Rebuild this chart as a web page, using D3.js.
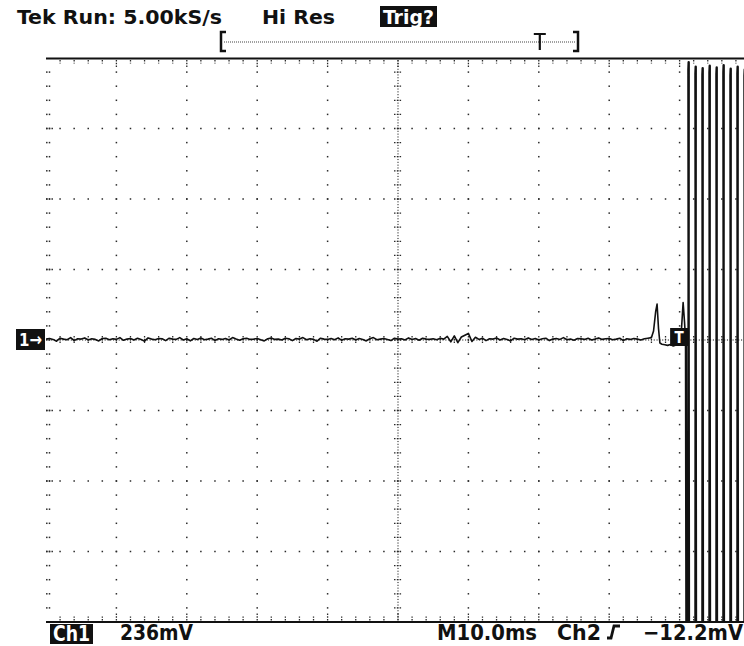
<!DOCTYPE html>
<html><head><meta charset="utf-8">
<script src="https://cdn.jsdelivr.net/npm/d3@7"></script>
<style>
html,body{margin:0;padding:0;background:#fff;}
svg{display:block;}
</style></head><body>
<svg id="c" width="744" height="646"></svg>
<script>
// ---------- data ----------
const timeDomainMs = [0, 100];      // 10 divisions x 10.0 ms
const voltDomainMv = [-944, 944];   // 8 divisions x 236 mV
const timeDivs = [10, 20, 30, 40, 60, 70, 80, 90];
const centerTime = 50;
const voltDivs = [-708, -472, -236, 236, 472, 708];
const centerVolt = 0;
const timeMinorMs = 2;
const voltMinorMv = 47.2;

const baseStepMs = 0.5;
const baselineMv = [
  3, 5, 2, -4, 6, 3, 1, 8, -2, 4, 3, 7, 0, 4, 2, -3, 5, 6, 1, 4,
  2, 8, -1, 3, 5, 0, 6, 2, -4, 7, 3, 1, 5, 4, -2, 6, 3, 2, 8, 0,
  4, -3, 5, 2, 7, 1, 3, 6, -2, 4, 2, 5, 0, 8, 3, -1, 4, 6, 2, 3,
  5, 1, -3, 4, 7, 2, 3, 0, 6, 4, -2, 5, 3, 8, 1, 4, 2, -4, 6, 3,
  2, 5, 1, 7, -1, 4, 3, 6, 0, 5, 2, -3, 4, 8, 1, 3, 5, 2, -2, 6,
  3, 4, 0, 7, 2, 5, -1, 6, 3, 2, 4, 1, 6, 3, 12, -6, 14, -9, 10, 16,
  22, -5, 9, 2, 6, -2, 4, 3, 7, 0, 5, 2, -3, 6, 3, 4, 1, 7, 2, 5,
  0, 4, 6, -2, 3, 5, 2, 8, 1, 3, -1, 5, 4, 2, 6, 0, 3, 7, 2, 4,
  5, 1, 3, 6, -2, 4, 2, 5, 3, 0, 4, 6
];
const spikeT  = [86.0, 86.3, 86.6, 86.8, 87.0, 87.2, 87.5, 87.9, 88.3, 88.7, 89.1, 89.5, 89.9, 90.2, 90.5, 90.7, 90.9];
const spikeMv = [8, 30, 95, 120, 40, -10, -14, -16, -18, -15, -20, -17, -12, 10, 125, 60, -20];
const burstT  = [91.19, 91.29, 91.25, 91.45, 92.19, 92.29, 92.25, 92.45, 93.18, 93.28, 93.24, 93.44,
                 94.18, 94.28, 94.24, 94.44, 95.17, 95.27, 95.23, 95.43, 96.16, 96.26, 96.22, 96.42,
                 97.16, 97.26, 97.22, 97.42, 98.15, 98.25, 98.21, 98.41, 99.15, 99.25, 99.21, 99.41];
const burstMv = [-4000, 930, 905, -4000, -4000, 915, 892, -4000, -4000, 910, 888, -4000,
                 -4000, 918, 895, -4000, -4000, 912, 890, -4000, -4000, 920, 896, -4000,
                 -4000, 908, 886, -4000, -4000, 915, 892, -4000, -4000, 905, 885, -4000];
const triggerTimeMs = 90.5;
const recordTriggerFrac = 0.893;

const headerTexts = ["Tek Run: 5.00kS/s", "Hi Res", "Trig?"];
const footerTexts = ["Ch1", "236mV", "M10.0ms", "Ch2", "\u221212.2mV"];
const channelMarker = "1\u2192";

// ---------- drawing ----------
const svg = d3.select("#c");
const x = d3.scaleLinear().domain(timeDomainMs).range([46, 750]);
const y = d3.scaleLinear().domain(voltDomainMv).range([622, 58]);
const ink = "#111";
const dotc = "#2a2a2a";
const font = "'DejaVu Sans Condensed', 'DejaVu Sans', sans-serif";

const minorT = d3.range(0, 51).map(i => timeDomainMs[0] + i * timeMinorMs);
const minorV = d3.range(0, 41).map(i => voltDomainMv[0] + i * voltMinorMv);
const visT = t => x(t) <= 744;
const inside = v => v > voltDomainMv[0] + 1 && v < voltDomainMv[1] - 1;

const g = svg.append("g");
function dot(px, py, s = 1.5) {
  g.append("rect").attr("x", px - s / 2).attr("y", py - s / 2).attr("width", s).attr("height", s).attr("fill", dotc);
}
// vertical gridlines
timeDivs.forEach(t => {
  minorV.filter(inside).forEach(v => dot(x(t), y(v)));
});
// horizontal gridlines
voltDivs.forEach(v => {
  minorT.filter(visT).forEach(t => { if (t > 0) dot(x(t), y(v)); });
  dot(x(0) + 0.8, y(v)); dot(x(0) + 3.5, y(v)); dot(x(0) + 6.2, y(v));
});
// left edge (double dots)
minorV.filter(inside).forEach(v => { dot(x(0) + 0.8, y(v)); dot(x(0) + 3.5, y(v)); });
// center vertical line
d3.range(0, 201).map(i => voltDomainMv[0] + i * voltMinorMv / 5).filter(inside)
  .forEach(v => dot(x(centerTime), y(v), 1.1));
minorV.filter(inside).forEach(v => {
  g.append("line").attr("x1", x(centerTime) - 4).attr("x2", x(centerTime) + 4)
    .attr("y1", y(v)).attr("y2", y(v)).attr("stroke", dotc).attr("stroke-width", 1.3)
    .attr("stroke-dasharray", "1.5,1.3");
});
// center horizontal line
d3.range(0, 250).map(i => timeDomainMs[0] + i * timeMinorMs / 5).filter(t => t > 0 && visT(t))
  .forEach(t => dot(x(t), y(centerVolt), 1.1));
minorT.filter(visT).forEach(t => {
  if (t === 0) return;
  g.append("line").attr("x1", x(t)).attr("x2", x(t))
    .attr("y1", y(centerVolt) - 4).attr("y2", y(centerVolt) + 4)
    .attr("stroke", dotc).attr("stroke-width", 1.3).attr("stroke-dasharray", "1.5,1.3");
});
// top & bottom borders with ticks
svg.append("line").attr("x1", x(0)).attr("x2", 744).attr("y1", y(voltDomainMv[1]) + 0.5).attr("y2", y(voltDomainMv[1]) + 0.5)
  .attr("stroke", ink).attr("stroke-width", 2);
svg.append("line").attr("x1", x(0)).attr("x2", 744).attr("y1", y(voltDomainMv[0])).attr("y2", y(voltDomainMv[0]))
  .attr("stroke", ink).attr("stroke-width", 2);
minorT.filter(visT).forEach(t => {
  if (t === 0) return;
  const major = (t % 10 === 0);
  g.append("line").attr("x1", x(t)).attr("x2", x(t)).attr("y1", y(voltDomainMv[1]) + 2)
    .attr("y2", y(voltDomainMv[1]) + (major ? 9 : 5.5)).attr("stroke", dotc).attr("stroke-width", 1.3)
    .attr("stroke-dasharray", "1.5,1.2");
  g.append("line").attr("x1", x(t)).attr("x2", x(t)).attr("y1", y(voltDomainMv[0]) - 1.5)
    .attr("y2", y(voltDomainMv[0]) - (major ? 9 : 5.5)).attr("stroke", dotc).attr("stroke-width", 1.3)
    .attr("stroke-dasharray", "1.5,1.2");
});

// trace
svg.append("clipPath").attr("id", "plotclip").append("rect")
  .attr("x", x(0)).attr("y", y(voltDomainMv[1]) + 1).attr("width", 744 - x(0)).attr("height", y(voltDomainMv[0]) - y(voltDomainMv[1]) - 1);
const quiet = baselineMv.map((v, i) => [i * baseStepMs, v])
  .concat(spikeT.map((t, i) => [t, spikeMv[i]]));
const burst = [quiet[quiet.length - 1]].concat(burstT.map((t, i) => [t, burstMv[i]]));
const line = d3.line().x(d => x(d[0])).y(d => y(d[1]));
svg.append("path").datum(quiet).attr("d", line).attr("clip-path", "url(#plotclip)")
  .attr("fill", "none").attr("stroke", ink).attr("stroke-width", 1.6).attr("stroke-linejoin", "round");
svg.append("path").datum(burst).attr("d", line).attr("clip-path", "url(#plotclip)")
  .attr("fill", "none").attr("stroke", ink).attr("stroke-width", 2.4).attr("stroke-linejoin", "round");

// trigger marker on trace
const tx = x(triggerTimeMs);
svg.append("rect").attr("x", tx - 13).attr("y", 328).attr("width", 18).attr("height", 18).attr("fill", ink);
svg.append("text").attr("x", tx - 4).attr("y", 343).attr("text-anchor", "middle").attr("fill", "#fff")
  .attr("font-family", font).attr("font-size", 15).attr("font-weight", "bold").text("T");

// channel marker
svg.append("rect").attr("x", 16).attr("y", 329).attr("width", 29).attr("height", 21).attr("fill", ink);
svg.append("text").attr("x", 19).attr("y", 346).attr("fill", "#fff").attr("font-family", font)
  .attr("font-size", 18).attr("font-weight", "bold").attr("textLength", 23).attr("lengthAdjust", "spacingAndGlyphs").text(channelMarker);

// header
svg.append("text").attr("x", 17).attr("y", 24).attr("font-family", font).attr("font-size", 20).attr("font-weight", "bold").attr("fill", ink)
  .attr("textLength", 205).attr("lengthAdjust", "spacingAndGlyphs").text(headerTexts[0]);
svg.append("text").attr("x", 262).attr("y", 24).attr("font-family", font).attr("font-size", 20).attr("font-weight", "bold").attr("fill", ink)
  .attr("textLength", 73).attr("lengthAdjust", "spacingAndGlyphs").text(headerTexts[1]);
svg.append("rect").attr("x", 380).attr("y", 6).attr("width", 57).attr("height", 21).attr("fill", ink);
svg.append("text").attr("x", 383).attr("y", 24).attr("font-family", font).attr("font-size", 20).attr("font-weight", "bold")
  .attr("fill", "#fff").attr("textLength", 51).attr("lengthAdjust", "spacingAndGlyphs").text(headerTexts[2]);

// record bracket
const bx0 = 221, bx1 = 578;
svg.append("path").attr("d", `M${bx0 + 5},32 H${bx0} V51 H${bx0 + 5}`).attr("fill", "none").attr("stroke", ink).attr("stroke-width", 2.5);
svg.append("path").attr("d", `M${bx1 - 5},32 H${bx1} V51 H${bx1 - 5}`).attr("fill", "none").attr("stroke", ink).attr("stroke-width", 2.5);
svg.append("line").attr("x1", bx0 + 3).attr("x2", bx1 - 3).attr("y1", 42).attr("y2", 42)
  .attr("stroke", "#444").attr("stroke-width", 1.2).attr("stroke-dasharray", "1,1");
const trx = bx0 + (bx1 - bx0) * recordTriggerFrac;
svg.append("path").attr("d", `M${trx - 6},34 H${trx + 6} M${trx},34 V50`).attr("stroke", ink).attr("stroke-width", 2.2).attr("fill", "none");

// footer
svg.append("rect").attr("x", 50).attr("y", 624).attr("width", 43).attr("height", 20).attr("fill", ink);
svg.append("text").attr("x", 53).attr("y", 641).attr("font-family", font).attr("font-size", 21).attr("font-weight", "bold")
  .attr("fill", "#fff").attr("textLength", 37).attr("lengthAdjust", "spacingAndGlyphs").text(footerTexts[0]);
const ft = [[footerTexts[1], 120, 73], [footerTexts[2], 437, 100], [footerTexts[3], 557, 44], [footerTexts[4], 643, 100]];
ft.forEach(([s, px, w]) => {
  svg.append("text").attr("x", px).attr("y", 640).attr("font-family", font).attr("font-size", 21).attr("font-weight", "bold").attr("fill", ink)
    .attr("textLength", w).attr("lengthAdjust", "spacingAndGlyphs").text(s);
});
// rising-slope symbol
svg.append("path").attr("d", "M607,638 H611 L614,626 H620").attr("fill", "none").attr("stroke", ink).attr("stroke-width", 2.8);
</script>
</body></html>
